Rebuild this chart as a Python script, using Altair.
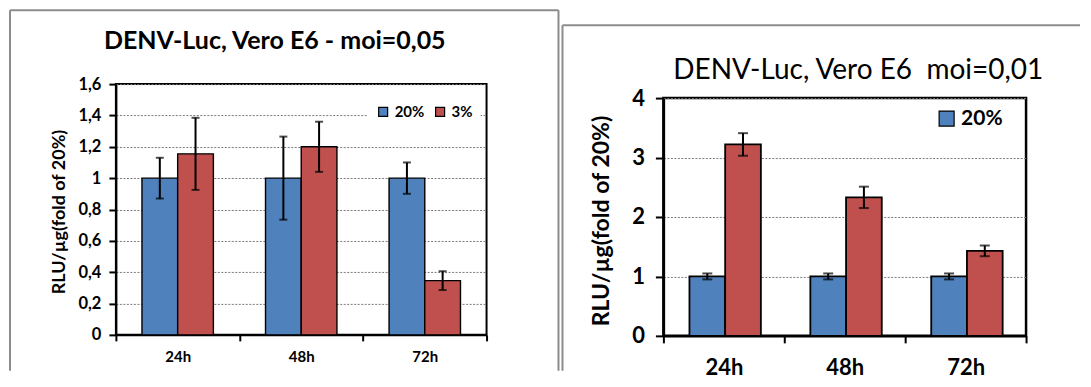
import altair as alt
import pandas as pd

FONT = "Lato"

times = ["24h", "48h", "72h"]
groups = ["20%", "3%"]
colors = ["#4F81BD", "#C0504D"]
y_title = "RLU/µg(fold of 20%)"

# Panel 1: moi=0,05
p1_title = "DENV-Luc, Vero E6 - moi=0,05"
p1_blue = [1.0, 1.0, 1.0]
p1_blue_err = [0.13, 0.265, 0.10]
p1_red = [1.155, 1.20, 0.346]
p1_red_err = [0.23, 0.16, 0.06]
p1_ticks = [0, 0.2, 0.4, 0.6, 0.8, 1.0, 1.2, 1.4, 1.6]

# Panel 2: moi=0,01
p2_title = "DENV-Luc, Vero E6\u00a0 moi=0,01"
p2_blue = [1.0, 1.0, 1.0]
p2_blue_err = [0.05, 0.05, 0.05]
p2_red = [3.22, 2.33, 1.43]
p2_red_err = [0.19, 0.18, 0.09]
p2_ticks = [0, 1, 2, 3, 4]


def make_df(blue, blue_err, red, red_err):
    rows = []
    for i, t in enumerate(times):
        rows.append({"time": t, "group": groups[0], "value": blue[i],
                     "lo": blue[i] - blue_err[i], "hi": blue[i] + blue_err[i]})
        rows.append({"time": t, "group": groups[1], "value": red[i],
                     "lo": red[i] - red_err[i], "hi": red[i] + red_err[i]})
    return pd.DataFrame(rows)


ann = pd.DataFrame({"a": [0]})
LABEL_EXPR = "replace(format(datum.value, '~g'), '.', ',')"


def panel(df, c):
    x = alt.X("time:N", sort=times, scale=alt.Scale(paddingInner=0, paddingOuter=0),
              axis=alt.Axis(title=None, labelAngle=0, tickBand="extent", domainColor="black",
                            domainWidth=c["sw"], tickColor="black", tickWidth=2, tickSize=c["xtick"],
                            labelFont=FONT, labelFontWeight="bold", labelFontSize=c["xlab"],
                            labelColor="black", labelPadding=c["xpad"], grid=False))
    xo = alt.XOffset("group:N", sort=groups,
                     scale=alt.Scale(paddingInner=0, paddingOuter=c["po"]))
    yscale = alt.Scale(domain=[0, c["ymax"]], nice=False, zero=True)
    yaxis = alt.Axis(title=None, values=c["ticks"], labelExpr=LABEL_EXPR, grid=True,
                     gridDash=[2, 1.5], gridColor="#7a7a7a", gridWidth=1,
                     domainColor="black", domainWidth=c["sw"], tickColor="black", tickWidth=2,
                     tickSize=c["ytick"], labelFont=FONT, labelFontWeight="bold",
                     labelFontSize=c["ylab"], labelColor="black",
                     labelPadding=c["ypad"])
    legend = alt.Legend(title=None, orient="none", legendX=c["lx"], legendY=c["ly"],
                        direction="horizontal", symbolType="square", symbolSize=c["sym"],
                        symbolStrokeColor="black", symbolStrokeWidth=1.2, symbolOpacity=1,
                        labelFont=FONT, labelFontWeight="bold", labelFontSize=c["leg"],
                        labelColor="black", labelOffset=4, columnPadding=c["colpad"],
                        padding=c["lpad"], fillColor="white", values=c["lvalues"])
    base = alt.Chart(df)
    bars = base.mark_bar(stroke="black", strokeWidth=c["bsw"]).encode(
        x=x, xOffset=xo, y=alt.Y("value:Q", scale=yscale, axis=yaxis),
        color=alt.Color("group:N", scale=alt.Scale(domain=groups, range=colors), legend=legend))
    err = base.mark_rule(color="black", strokeWidth=2).encode(
        x=x, xOffset=xo, y=alt.Y("lo:Q", scale=yscale, axis=yaxis), y2="hi:Q")
    cap_lo = base.mark_tick(color="black", thickness=2, size=c["cap"], orient="horizontal").encode(
        x=x, xOffset=xo, y=alt.Y("lo:Q", scale=yscale, axis=yaxis))
    cap_hi = base.mark_tick(color="black", thickness=2, size=c["cap"], orient="horizontal").encode(
        x=x, xOffset=xo, y=alt.Y("hi:Q", scale=yscale, axis=yaxis))
    title = alt.Chart(ann).mark_text(
        text=c["title"], font=FONT, fontSize=c["tsize"], fontWeight=c["tweight"],
        align="center", baseline="alphabetic", color="black").encode(
        x=alt.value(c["tx"]), y=alt.value(c["ty"]))
    ytitle = alt.Chart(ann).mark_text(
        text=y_title, font=FONT, fontSize=c["ysize"], fontWeight="bold", angle=270,
        align="center", baseline="middle", color="black").encode(
        x=alt.value(c["yx"]), y=alt.value(c["yy"]))
    frame_layers = []
    for (x1, x2, y1, y2) in c["frame"]:
        frame_layers.append(alt.Chart(ann).mark_rule(color="#8c8c8c", strokeWidth=2).encode(
            x=alt.value(x1), x2=alt.value(x2), y=alt.value(y1), y2=alt.value(y2)))
    return alt.layer(bars, err, cap_lo, cap_hi, *frame_layers, title, ytitle).properties(
        width=c["w"], height=c["h"],
        view=alt.ViewBackground(stroke="black", strokeWidth=c["sw"]))


c1 = dict(w=371, h=251, ymax=1.6, ticks=p1_ticks, xtick=6, xlab=15, xpad=9, po=0.73,
          ytick=7, ylab=16.5, ypad=8, lx=252, ly=12, sym=81, leg=15, lpad=8, colpad=8,
          lvalues=groups, cap=8, title=p1_title, tsize=25, tweight="bold", tx=159, ty=-35,
          ysize=18, yx=-56, yy=128, sw=2, bsw=1.4,
          frame=[(-106, -106, -74, 287), (-106, 443, -74, -74), (443, 443, -74, 287)])
c2 = dict(w=363, h=238, ymax=4, ticks=p2_ticks, xtick=7, xlab=22, xpad=15, po=0.75,
          ytick=8, ylab=22, ypad=11, lx=269, ly=20, sym=225, leg=21, lpad=4, colpad=8,
          lvalues=["20%"], cap=10, title=p2_title, tsize=28, tweight="normal", tx=195, ty=-19,
          ysize=23, yx=-61, yy=123, sw=2.5, bsw=1.8,
          frame=[(-101, -101, -73, 273), (-101, 417, -73, -73)])

panel1 = panel(make_df(p1_blue, p1_blue_err, p1_red, p1_red_err), c1)
panel2 = panel(make_df(p2_blue, p2_blue_err, p2_red, p2_red_err), c2)

spacer = alt.Chart(ann).mark_point(opacity=0).encode(
    x=alt.value(0), y=alt.value(0)).properties(
    width=363, height=14, view=alt.ViewBackground(stroke="transparent"))

col2 = alt.vconcat(spacer, panel2, spacing=0, bounds="flush")

chart = alt.hconcat(panel1, col2, spacing=177, bounds="flush").resolve_scale(
    color="independent").properties(
    padding={"left": 0, "top": 0, "right": 0, "bottom": 0}).configure(
    font=FONT)

chart.save("out.html", embed_options={"renderer": "svg", "actions": False})
